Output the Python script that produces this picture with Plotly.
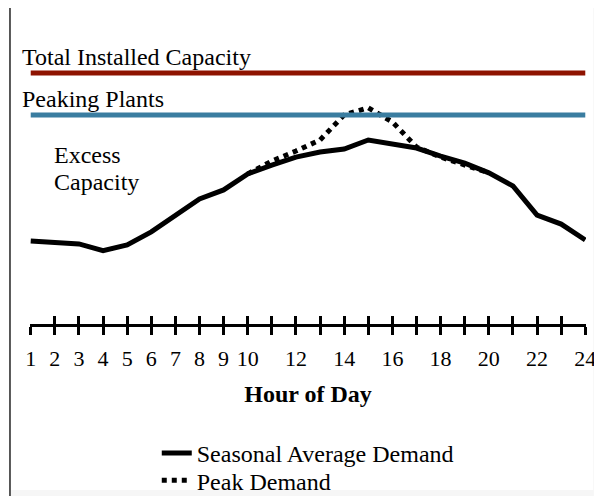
import plotly.graph_objects as go

# hours of the day
hours = list(range(1, 25))
tick_labels = [str(h) if (h <= 10 or h % 2 == 0) else "" for h in hours]

# seasonal average demand (relative units, capacity = 100)
avg_demand = [33.1, 32.5, 31.9, 29.2, 31.5, 36.7, 43.4, 49.8, 53.4, 59.8, 63.3, 66.5,
              68.5, 69.7, 73.3, 71.7, 70.1, 66.9, 64.1, 60.2, 55.0, 43.4, 39.8, 33.5]

# peak demand, only where it departs from the average
peak_hours = [10, 11, 12, 13, 14, 15, 16, 17, 18, 19, 20]
peak_demand = [59.8, 64.9, 68.9, 73.3, 83.3, 86.1, 80.5, 70.5, 66.5, 63.3, 60.2]

# capacity levels
capacity_hours = [1, 24]
total_capacity = [100, 100]
peaking_level = [83.3, 83.3]

FONT = "Liberation Serif, Times New Roman, serif"

fig = go.Figure()

fig.add_trace(go.Scatter(
    x=capacity_hours, y=total_capacity, mode="lines",
    line=dict(color="#8E1300", width=5), showlegend=False, hoverinfo="skip"
))
fig.add_trace(go.Scatter(
    x=capacity_hours, y=peaking_level, mode="lines", xaxis="x2",
    line=dict(color="#3A7DA0", width=5), showlegend=False, hoverinfo="skip"
))
fig.add_trace(go.Scatter(
    x=hours, y=avg_demand, mode="lines", name="Seasonal Average Demand",
    line=dict(color="black", width=5), legend="legend"
))
fig.add_trace(go.Scatter(
    x=peak_hours, y=peak_demand, mode="lines", name="Peak Demand",
    line=dict(color="black", width=5, dash="dot"), legend="legend2"
))

# text labels
label_font = dict(size=24, color="black", family=FONT)
fig.add_annotation(text="Total Installed Capacity", xref="paper", yref="y",
                   x=-0.018, y=106.5, xanchor="left", yanchor="middle", showarrow=False,
                   font=label_font)
fig.add_annotation(text="Peaking Plants", xref="paper", yref="y",
                   x=-0.018, y=89.5, xanchor="left", yanchor="middle", showarrow=False,
                   font=label_font)
fig.add_annotation(text="Excess", xref="paper", yref="y",
                   x=0.04, y=67.2, xanchor="left", yanchor="middle", showarrow=False,
                   font=label_font)
fig.add_annotation(text="Capacity", xref="paper", yref="y",
                   x=0.04, y=56.5, xanchor="left", yanchor="middle", showarrow=False,
                   font=label_font)

# page edges (slide border)
fig.add_shape(type="line", xref="paper", yref="paper", x0=-0.036, x1=-0.036, y0=-0.57, y1=1.05,
              line=dict(color="#222222", width=1.5))
fig.add_shape(type="rect", xref="paper", yref="paper", x0=1.013, x1=1.03, y0=-0.57, y1=1.05,
              fillcolor="#f6f6f6", line_width=0, layer="below")
fig.add_shape(type="rect", xref="paper", yref="paper", x0=-0.034, x1=1.013, y0=-0.57, y1=-0.546,
              fillcolor="#f6f6f6", line_width=0, layer="below")

axis_common = dict(
    range=[0.97, 24.03], tickmode="array", tickvals=hours,
    ticklen=8, tickwidth=2.5, tickcolor="black",
    showgrid=False, zeroline=False, automargin=False,
)

legend_common = dict(
    x=0.228, xanchor="left", yanchor="top",
    font=dict(size=24, family=FONT), bgcolor="rgba(0,0,0,0)", itemwidth=30,
)

fig.update_layout(
    width=594, height=488,
    margin=dict(l=22, r=16, t=12, b=172, autoexpand=False),
    paper_bgcolor="white", plot_bgcolor="white",
    font=dict(family=FONT, color="black", size=22),
    xaxis=dict(
        **axis_common, ticktext=tick_labels, ticks="outside",
        showline=True, linecolor="black", linewidth=3,
        ticklabelstandoff=5, tickfont=dict(size=22),
        title=dict(text="<b>Hour of Day</b>", font=dict(size=24), standoff=15),
    ),
    xaxis2=dict(
        **axis_common, overlaying="x", anchor="y", ticks="inside",
        showticklabels=False, showline=False,
    ),
    yaxis=dict(range=[0, 121.1], visible=False),
    legend=dict(**legend_common, y=-0.352),
    legend2=dict(**legend_common, y=-0.441),
)

fig.write_html("out.html")
